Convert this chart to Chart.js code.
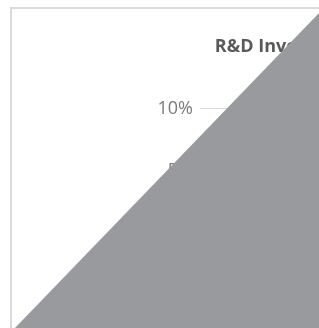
<!DOCTYPE html>
<html>
<head>
<meta charset="utf-8">
<script src="https://cdn.jsdelivr.net/npm/chart.js@4"></script>
<style>
  html, body { margin: 0; padding: 0; background: #fff; overflow: hidden; }
  body { width: 319px; height: 328px; position: relative; }
  .frame { position: absolute; left: 10px; top: 7px; border: 2px solid #dadada; background: #fff; }
  /* diagonal grey sheet lying over the lower right of the chart */
  .sheet {
    position: absolute; left: 0; top: 0; width: 319px; height: 328px;
    background: #999a9e;
    clip-path: polygon(320px 12px, 320px 330px, 13px 330px);
  }
</style>
</head>
<body>
<div class="frame"><canvas id="chart"></canvas></div>
<div class="sheet"></div>
<script>
// data
const chartTitle = 'R&D Investment as % of Revenue';
const years = ['2016', '2017', '2018', '2019', '2020', '2021', '2022', '2023'];
const rdShare = [6.2, 6.8, 7.1, 7.5, 8.3, 7.9, 8.6, 9.1];
const yMin = 0, yMax = 10, yStep = 5;

const FONT = '"Open Sans", "DejaVu Sans", sans-serif';

// canvas size: keep the centred title starting where the reference has it
const probe = document.createElement('canvas').getContext('2d');
probe.font = 'bold 18px ' + FONT;
const titleW = probe.measureText(chartTitle).width;
const padL = 145, padR = 20;
const center = 203 + titleW / 2;
const W = Math.round(2 * center - padL + padR);
const H = 340;

const cv = document.getElementById('chart');
cv.width = W; cv.height = H;
cv.style.width = W + 'px'; cv.style.height = H + 'px';

new Chart(cv.getContext('2d'), {
  type: 'line',
  data: {
    labels: years,
    datasets: [{
      label: 'R&D share',
      data: rdShare,
      borderColor: '#4472c4',
      backgroundColor: '#4472c4',
      borderWidth: 2.5,
      pointRadius: 3,
      tension: 0
    }]
  },
  options: {
    responsive: false,
    animation: false,
    layout: { padding: { left: padL, right: padR, top: 16, bottom: 86 } },
    plugins: {
      legend: { display: false },
      tooltip: { enabled: false },
      title: {
        display: true,
        text: chartTitle,
        color: '#595959',
        font: { family: FONT, size: 18, weight: 'bold' },
        padding: { top: 11, bottom: 51 }
      }
    },
    scales: {
      x: {
        afterFit: s => { s.height = 30; },
        grid: { display: false },
        border: { display: false },
        ticks: { color: '#7a7a7a', font: { family: FONT, size: 18 } }
      },
      y: {
        min: yMin, max: yMax,
        afterFit: s => { s.width = 43; },
        border: { display: false },
        grid: { color: '#d9d9d9', drawTicks: false },
        ticks: {
          stepSize: yStep,
          padding: 7,
          color: '#7a7a7a',
          font: { family: FONT, size: 18 },
          callback: v => v + '%'
        }
      }
    }
  }
});
</script>
</body>
</html>
